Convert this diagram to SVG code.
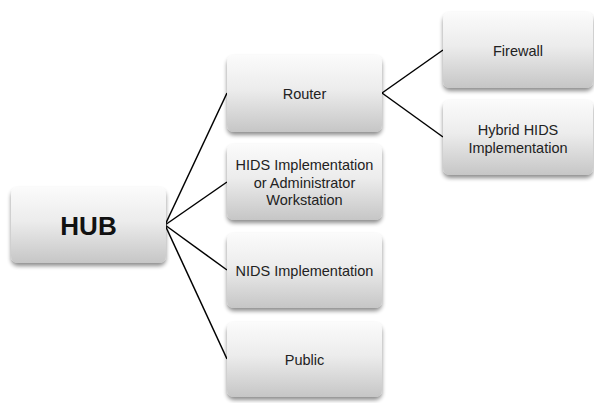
<svg xmlns="http://www.w3.org/2000/svg" width="594" height="403" viewBox="0 0 594 403">
  <defs>
    <linearGradient id="boxFill" x1="0" y1="0" x2="0" y2="1">
      <stop offset="0" stop-color="#fbfbfb"/>
      <stop offset="0.45" stop-color="#ececec"/>
      <stop offset="1" stop-color="#c6c6c6"/>
    </linearGradient>
    <filter id="shadow" x="-20%" y="-20%" width="140%" height="150%">
      <feGaussianBlur in="SourceAlpha" stdDeviation="2.2"/>
      <feOffset dx="0" dy="3" result="blur"/>
      <feComponentTransfer><feFuncA type="linear" slope="0.45"/></feComponentTransfer>
      <feMerge><feMergeNode/><feMergeNode in="SourceGraphic"/></feMerge>
    </filter>
  </defs>
  <style>
    .box { fill: url(#boxFill); filter: url(#shadow); }
    .lbl { font-family: "Liberation Sans", Arial, sans-serif; font-size: 14.5px; fill: #222; text-anchor: middle; }
    .hub { font-family: "Liberation Sans", Arial, sans-serif; font-size: 26px; font-weight: bold; fill: #111; text-anchor: middle; }
    .link { stroke: #000; stroke-width: 1.5; fill: none; }
  </style>

  <!-- connectors -->
  <g id="connectors">
    <line class="link" x1="165" y1="225" x2="227" y2="93"/>
    <line class="link" x1="165" y1="225" x2="227" y2="182"/>
    <line class="link" x1="165" y1="225" x2="227" y2="270"/>
    <line class="link" x1="165" y1="225" x2="227" y2="359"/>
    <line class="link" x1="382" y1="93" x2="443" y2="50"/>
    <line class="link" x1="382" y1="93" x2="443" y2="137"/>
  </g>

  <g id="hub">
    <rect class="box" x="11" y="187" width="155" height="76" rx="7"/>
    <text class="hub" x="88.5" y="234.5">HUB</text>
  </g>

  <g id="router">
    <rect class="box" x="227" y="55" width="155" height="77" rx="7"/>
    <text class="lbl" x="304.5" y="98.5">Router</text>
  </g>

  <g id="hids">
    <rect class="box" x="227" y="144" width="155" height="76" rx="7"/>
    <text class="lbl" x="304.5" y="170">HIDS Implementation</text>
    <text class="lbl" x="304.5" y="187.5">or Administrator</text>
    <text class="lbl" x="304.5" y="205">Workstation</text>
  </g>

  <g id="nids">
    <rect class="box" x="227" y="233" width="155" height="75" rx="7"/>
    <text class="lbl" x="304.5" y="275.5">NIDS Implementation</text>
  </g>

  <g id="public">
    <rect class="box" x="227" y="322" width="155" height="75" rx="7"/>
    <text class="lbl" x="304.5" y="364.5">Public</text>
  </g>

  <g id="firewall">
    <rect class="box" x="443" y="12" width="150" height="76" rx="7"/>
    <text class="lbl" x="518" y="55.5">Firewall</text>
  </g>

  <g id="hybrid">
    <rect class="box" x="443" y="100" width="150" height="75" rx="7"/>
    <text class="lbl" x="518" y="135">Hybrid HIDS</text>
    <text class="lbl" x="518" y="152.5">Implementation</text>
  </g>
</svg>
